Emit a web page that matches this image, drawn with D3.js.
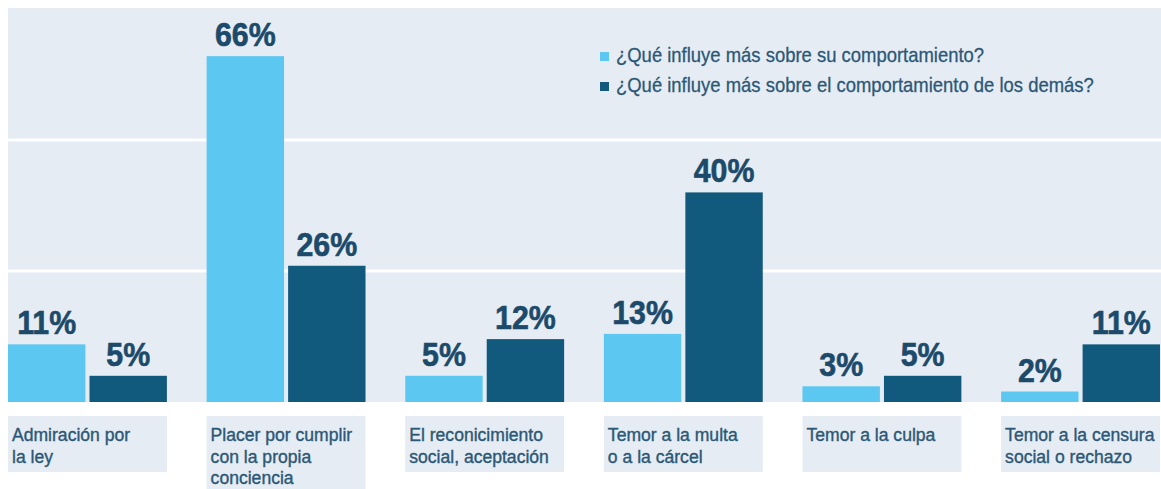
<!DOCTYPE html>
<html>
<head>
<meta charset="utf-8">
<script src="https://cdn.jsdelivr.net/npm/d3@7"></script>
<style>
  body { margin: 0; background: #fff; }
  svg { display: block; font-family: "Liberation Sans", Arial, sans-serif; }
</style>
</head>
<body>
<svg id="chart" width="1161" height="489"></svg>
<script>
// data
const categories = [
    ["Admiración por", "la ley"],
    ["Placer por cumplir", "con la propia", "conciencia"],
    ["El reconicimiento", "social, aceptación"],
    ["Temor a la multa", "o a la cárcel"],
    ["Temor a la culpa"],
    ["Temor a la censura", "social o rechazo"]
];
const seriesNames = [
    "¿Qué influye más sobre su comportamiento?",
    "¿Qué influye más sobre el comportamiento de los demás?"
];
const ownValues = [11, 66, 5, 13, 3, 2];
const othersValues = [5, 26, 12, 40, 5, 11];
const gridTicks = [25, 50];

const colors = ["#5cc8f1", "#125a7d"];
const squeeze = 0.9; // the original font is a little condensed
const lineGap = 21.5;

const svg = d3.select("#chart");

const x0 = d3.scaleBand()
    .domain(d3.range(categories.length))
    .range([8, 1160])
    .paddingInner(0.2)
    .paddingOuter(0);

const x1 = d3.scaleBand()
    .domain([0, 1])
    .range([0, x0.bandwidth()])
    .paddingInner(0.05);

const y = d3.scaleLinear().domain([0, 75]).range([402, 9]);

// panel background
svg.append("rect")
    .attr("x", 8).attr("y", 8)
    .attr("width", 1161 - 8).attr("height", y(0) - 8)
    .attr("fill", "#e6ecf3");

// white grid lines
svg.selectAll(".grid")
    .data(gridTicks)
    .join("line")
    .attr("x1", 8).attr("x2", 1161)
    .attr("y1", d => y(d)).attr("y2", d => y(d))
    .attr("stroke", "#fff")
    .attr("stroke-width", 3);

const rows = categories.map((c, i) => ({ i, vals: [ownValues[i], othersValues[i]] }));

const groups = svg.selectAll(".group")
    .data(rows)
    .join("g")
    .attr("transform", d => `translate(${x0(d.i)},0)`);

groups.selectAll("rect")
    .data(d => d.vals.map((v, s) => ({ v, s })))
    .join("rect")
    .attr("x", d => x1(d.s))
    .attr("y", d => y(d.v))
    .attr("width", x1.bandwidth())
    .attr("height", d => y(0) - y(d.v))
    .attr("fill", d => colors[d.s]);

// value labels above bars
groups.selectAll(".val")
    .data(d => d.vals.map((v, s) => ({ v, s })))
    .join("text")
    .attr("transform", d => `translate(${x1(d.s) + x1.bandwidth() / 2},${y(d.v) - 10}) scale(0.92,1)`)
    .attr("text-anchor", "middle")
    .attr("font-size", 33)
    .attr("font-weight", "bold")
    .attr("fill", "#1c4a6a")
    .attr("stroke", "#1c4a6a")
    .attr("stroke-width", 0.6)
    .text(d => d.v + "%");

// category label boxes (at least two lines tall)
groups.append("rect")
    .attr("x", 0)
    .attr("y", 416)
    .attr("width", x0.bandwidth())
    .attr("height", d => Math.max(2, categories[d.i].length) * lineGap + 13)
    .attr("fill", "#e6ecf3");

groups.selectAll(".cat")
    .data(d => categories[d.i])
    .join("text")
    .attr("transform", (d, k) => `translate(4,${441 + k * lineGap}) scale(0.95,1)`)
    .attr("font-size", 18.5)
    .attr("fill", "#2c5877")
    .attr("stroke", "#2c5877")
    .attr("stroke-width", 0.4)
    .text(d => d);

// legend
const legend = svg.append("g").attr("transform", "translate(600,52)");
const items = legend.selectAll("g")
    .data(seriesNames)
    .join("g")
    .attr("transform", (d, i) => `translate(0,${i * 30})`);

items.append("rect")
    .attr("width", 9).attr("height", 9)
    .attr("fill", (d, i) => colors[i]);

items.append("text")
    .attr("transform", `translate(16,10) scale(${squeeze},1)`)
    .attr("font-size", 20.5)
    .attr("fill", "#2c5877")
    .attr("stroke", "#2c5877")
    .attr("stroke-width", 0.3)
    .text(d => d);
</script>
</body>
</html>
